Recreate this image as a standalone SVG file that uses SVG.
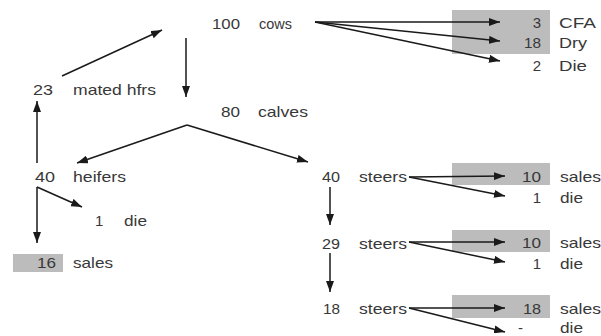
<svg xmlns="http://www.w3.org/2000/svg" width="601" height="336" viewBox="0 0 601 336">
<style>
text{font-family:"Liberation Sans",Arial,sans-serif;font-size:15px;fill:#383838}
.n{text-anchor:end}
.box{fill:#bcbcbc}
.c path{fill:none;stroke:#1a1a1a;stroke-width:1.5;marker-end:url(#ah)}
</style>
<defs>
<marker id="ah" markerWidth="11" markerHeight="8" refX="11" refY="4" orient="auto" markerUnits="userSpaceOnUse"><path d="M0,0 L11,4 L0,8 z" fill="#1a1a1a"/></marker>
</defs>
<rect class="box" x="452" y="10" width="98" height="44"/>
<rect class="box" x="452" y="163" width="98" height="22"/>
<rect class="box" x="452" y="230" width="98" height="22"/>
<rect class="box" x="452" y="295" width="98" height="23"/>
<rect class="box" x="13" y="254" width="50" height="18"/>
<g id="cows"><text x="212" y="29" textLength="28" lengthAdjust="spacingAndGlyphs">100</text><text x="259" y="29" textLength="33" lengthAdjust="spacingAndGlyphs">cows</text></g>
<g id="cfa"><text class="n" x="541" y="28">3</text><text x="559" y="28" textLength="37" lengthAdjust="spacingAndGlyphs">CFA</text></g>
<g id="dry"><text class="n" x="541" y="48" textLength="17" lengthAdjust="spacingAndGlyphs">18</text><text x="559" y="48" textLength="28" lengthAdjust="spacingAndGlyphs">Dry</text></g>
<g id="cowdie"><text class="n" x="541" y="71">2</text><text x="559" y="71" textLength="28" lengthAdjust="spacingAndGlyphs">Die</text></g>
<g id="mated"><text x="33" y="95" textLength="20" lengthAdjust="spacingAndGlyphs">23</text><text x="73" y="95" textLength="83" lengthAdjust="spacingAndGlyphs">mated hfrs</text></g>
<g id="calves"><text x="221" y="117" textLength="19" lengthAdjust="spacingAndGlyphs">80</text><text x="258" y="117" textLength="50" lengthAdjust="spacingAndGlyphs">calves</text></g>
<g id="heifers"><text x="35" y="182" textLength="20" lengthAdjust="spacingAndGlyphs">40</text><text x="73" y="182" textLength="53" lengthAdjust="spacingAndGlyphs">heifers</text></g>
<g id="heiferdie"><text x="95" y="226">1</text><text x="124" y="226" textLength="23" lengthAdjust="spacingAndGlyphs">die</text></g>
<g id="heifersales"><text class="n" x="56" y="268" textLength="19" lengthAdjust="spacingAndGlyphs">16</text><text x="73" y="268" textLength="40" lengthAdjust="spacingAndGlyphs">sales</text></g>
<g id="steers1"><text x="322" y="182" textLength="18" lengthAdjust="spacingAndGlyphs">40</text><text x="359" y="182" textLength="48" lengthAdjust="spacingAndGlyphs">steers</text></g>
<g id="steers1sales"><text class="n" x="541" y="182" textLength="19" lengthAdjust="spacingAndGlyphs">10</text><text x="560" y="182" textLength="41" lengthAdjust="spacingAndGlyphs">sales</text></g>
<g id="steers1die"><text class="n" x="541" y="203">1</text><text x="560" y="203" textLength="23" lengthAdjust="spacingAndGlyphs">die</text></g>
<g id="steers2"><text x="322" y="249" textLength="18" lengthAdjust="spacingAndGlyphs">29</text><text x="359" y="249" textLength="48" lengthAdjust="spacingAndGlyphs">steers</text></g>
<g id="steers2sales"><text class="n" x="541" y="248" textLength="19" lengthAdjust="spacingAndGlyphs">10</text><text x="560" y="248" textLength="41" lengthAdjust="spacingAndGlyphs">sales</text></g>
<g id="steers2die"><text class="n" x="541" y="269">1</text><text x="560" y="269" textLength="23" lengthAdjust="spacingAndGlyphs">die</text></g>
<g id="steers3"><text x="323" y="314" textLength="17" lengthAdjust="spacingAndGlyphs">18</text><text x="359" y="314" textLength="48" lengthAdjust="spacingAndGlyphs">steers</text></g>
<g id="steers3sales"><text class="n" x="541" y="314" textLength="18" lengthAdjust="spacingAndGlyphs">18</text><text x="560" y="314" textLength="41" lengthAdjust="spacingAndGlyphs">sales</text></g>
<g id="steers3die"><text class="n" x="523" y="333">-</text><text x="560" y="333" textLength="23" lengthAdjust="spacingAndGlyphs">die</text></g>
<g id="connectors" class="c">
<path d="M62,76 L162,30"/>
<path d="M186,38 L186,97"/>
<path d="M187,125 L77,163"/>
<path d="M187,125 L308,162"/>
<path d="M37,163 L37,101"/>
<path d="M37,187 L37,243"/>
<path d="M37,187 L82,207"/>
<path d="M315,22 L500,22"/>
<path d="M315,22 L500,41"/>
<path d="M315,22 L500,61"/>
<path d="M409,177 L505,176"/>
<path d="M409,177 L505,196"/>
<path d="M409,242 L505,242"/>
<path d="M409,242 L505,262"/>
<path d="M409,308 L505,308"/>
<path d="M409,308 L505,332"/>
<path d="M330,187 L330,225"/>
<path d="M330,253 L330,292"/>
</g>
</svg>
